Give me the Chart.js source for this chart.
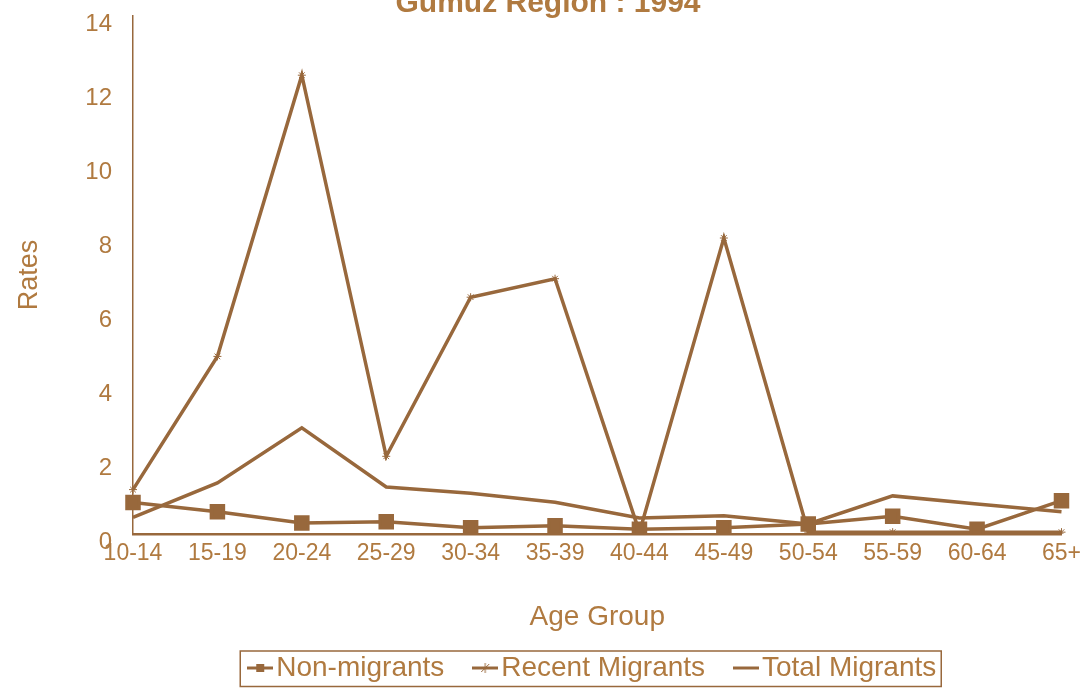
<!DOCTYPE html>
<html>
<head>
<meta charset="utf-8">
<script src="https://cdn.jsdelivr.net/npm/chart.js@4.4.1/dist/chart.umd.min.js"></script>
<style>
  html, body { margin: 0; padding: 0; background: #fff; overflow: hidden; }
  #wrap { position: relative; width: 1087px; height: 688px; }
</style>
</head>
<body>
<div id="wrap"><canvas id="chart"></canvas></div>
<script>
const ageGroups = ['10-14', '15-19', '20-24', '25-29', '30-34', '35-39', '40-44', '45-49', '50-54', '55-59', '60-64', '65+'];
const nonMigrants = [0.85, 0.6, 0.3, 0.33, 0.17, 0.22, 0.13, 0.17, 0.27, 0.48, 0.13, 0.9];
const recentMigrants = [1.2, 4.8, 12.4, 2.1, 6.4, 6.9, 0.05, 8.0, 0.05, 0.05, 0.05, 0.05];
const totalMigrants = [0.45, 1.38, 2.87, 1.27, 1.1, 0.86, 0.43, 0.49, 0.27, 1.03, 0.81, 0.6];
const yTicks = [0, 2, 4, 6, 8, 10, 12, 14];

const lineColor = '#98683c';
const textColor = '#b07a40';
const fontFam = '"Liberation Sans", Arial, sans-serif';

// little legend swatches: line with the marker on it
function swatch(kind) {
  const c = document.createElement('canvas');
  c.width = 26; c.height = 14;
  const g = c.getContext('2d');
  g.strokeStyle = lineColor;
  g.fillStyle = lineColor;
  g.lineWidth = 3;
  g.beginPath(); g.moveTo(0, 7); g.lineTo(26, 7); g.stroke();
  if (kind === 'rect') g.fillRect(9, 3, 8, 8);
  if (kind === 'star') {
    g.lineWidth = 1;
    g.beginPath();
    g.moveTo(13, 2); g.lineTo(13, 12);
    g.moveTo(9, 11); g.lineTo(17, 3);
    g.stroke();
  }
  return c;
}
const legendMarks = [swatch('rect'), swatch('star'), swatch('line')];

// title sits partly above the top edge, as in the scan
const topTitle = {
  id: 'topTitle',
  afterDraw(chart) {
    const ctx = chart.ctx;
    ctx.save();
    ctx.fillStyle = textColor;
    ctx.font = 'bold 30px ' + fontFam;
    ctx.textAlign = 'center';
    ctx.textBaseline = 'alphabetic';
    ctx.fillText('Gumuz Region : 1994', 548, 12);
    ctx.restore();
  }
};

// box drawn round the legend items
const legendBox = {
  id: 'legendBox',
  afterDraw(chart) {
    const l = chart.legend;
    if (!l || !l.legendHitBoxes.length) return;
    const hb = l.legendHitBoxes;
    const x0 = hb[0].left - 18;
    const last = hb[hb.length - 1];
    const x1 = last.left + last.width + 5;
    const y0 = l.top - 3;
    const ctx = chart.ctx;
    ctx.save();
    ctx.strokeStyle = lineColor;
    ctx.lineWidth = 1.5;
    ctx.strokeRect(x0, y0, x1 - x0, chart.height - 1.5 - y0);
    ctx.restore();
  }
};

new Chart(document.getElementById('chart'), {
  type: 'line',
  data: {
    labels: ageGroups,
    datasets: [
      {
        label: 'Non-migrants',
        data: nonMigrants,
        borderColor: lineColor,
        backgroundColor: lineColor,
        borderWidth: 3.5,
        pointStyle: 'rect',
        pointRadius: 8.5,
        tension: 0
      },
      {
        label: 'Recent Migrants',
        data: recentMigrants,
        borderColor: lineColor,
        backgroundColor: lineColor,
        borderWidth: 3.5,
        pointStyle: 'star',
        pointRadius: 4,
        pointBorderWidth: 1,
        tension: 0
      },
      {
        label: 'Total Migrants',
        data: totalMigrants,
        borderColor: lineColor,
        backgroundColor: lineColor,
        borderWidth: 3.5,
        pointRadius: 0,
        tension: 0
      }
    ]
  },
  options: {
    responsive: true,
    maintainAspectRatio: false,
    animation: false,
    layout: { padding: { left: 0, right: 23, top: 0, bottom: -4 } },
    plugins: {
      title: { display: false },
      legend: {
        position: 'bottom',
        fullSize: false,
        labels: {
          color: textColor,
          font: { family: fontFam, size: 28 },
          usePointStyle: true,
          pointStyleWidth: 4,
          padding: 0,
          generateLabels(chart) {
            const items = Chart.defaults.plugins.legend.labels.generateLabels(chart);
            items.forEach((it, i) => {
              it.pointStyle = legendMarks[i];
              if (i < items.length - 1) it.text = it.text + '     ';
            });
            return items;
          }
        }
      },
      tooltip: { enabled: false }
    },
    scales: {
      x: {
        afterFit(scale) { scale.height = 120; },
        grid: { display: false, drawTicks: false },
        border: { color: lineColor, width: 2.5 },
        ticks: {
          color: textColor,
          font: { family: fontFam, size: 23 },
          padding: 6,
          maxRotation: 0,
          autoSkip: false
        },
        title: {
          display: true,
          text: 'Age Group',
          color: textColor,
          font: { family: fontFam, size: 28 },
          padding: { top: 30, bottom: 20 }
        }
      },
      y: {
        min: 0,
        max: 14,
        afterBuildTicks(scale) { scale.ticks = yTicks.map(v => ({ value: v })); },
        afterFit(scale) {
          scale.width = 133;
          scale.paddingTop = 16;
          scale.paddingBottom = 0;
        },
        grid: { display: false, drawTicks: false },
        border: { color: lineColor, width: 1.5 },
        ticks: {
          color: textColor,
          font: { family: fontFam, size: 24 },
          padding: 21,
          labelOffset: 8
        },
        title: {
          display: true,
          text: 'Rates',
          color: textColor,
          font: { family: fontFam, size: 27 },
          padding: { top: 13, bottom: 0 }
        }
      }
    }
  },
  plugins: [topTitle, legendBox]
});
</script>
</body>
</html>
